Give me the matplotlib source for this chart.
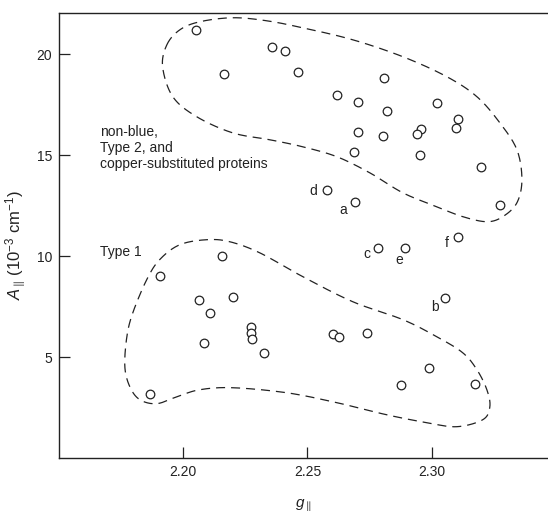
import numpy as np
import matplotlib
matplotlib.use("Agg")
import matplotlib.pyplot as plt

plt.rcParams['font.family'] = ['Liberation Sans', 'DejaVu Sans']
plt.rcParams['mathtext.fontset'] = 'custom'
plt.rcParams['mathtext.rm'] = 'Liberation Sans'
plt.rcParams['mathtext.it'] = 'Liberation Sans:italic'
plt.rcParams['lines.scale_dashes'] = False

# ---- data: unlabelled proteins (g_par, A_par in 1e-3 cm^-1) ----
g_upper = [2.2053, 2.2163, 2.2359, 2.2411, 2.2462, 2.2807, 2.2617, 2.2704, 2.2822,
           2.3022, 2.3104, 2.3096, 2.2704, 2.2803, 2.2955, 2.2939, 2.2686, 2.2953,
           2.3198, 2.3273]
A_upper = [21.2, 19.02, 20.33, 20.16, 19.09, 18.83, 17.99, 17.62, 17.18,
           17.6, 16.81, 16.32, 16.12, 15.92, 16.27, 16.04, 15.15, 14.98,
           14.39, 12.52]

g_lower = [2.2156, 2.1905, 2.2065, 2.2202, 2.2108, 2.2273, 2.2273, 2.2277, 2.2085,
           2.2324, 2.1868, 2.2603, 2.2626, 2.2740, 2.2990, 2.2878, 2.3175]
A_lower = [10.01, 9.02, 7.84, 7.95, 7.16, 6.50, 6.19, 5.91, 5.71,
           5.21, 3.15, 6.15, 5.97, 6.17, 4.47, 3.61, 3.68]

# labelled proteins
lab_names = ['a', 'b', 'c', 'd', 'e', 'f']
lab_g = [2.2692, 2.3055, 2.2784, 2.2577, 2.2894, 2.3106]
lab_A = [12.69, 7.90, 10.40, 13.28, 10.41, 10.96]

# hand-drawn group outlines (g_par, A_par)
outline1_g = [2.1934, 2.1986, 2.2066, 2.2199, 2.2336, 2.2481, 2.2682, 2.2884, 2.3061,
              2.3182, 2.3274, 2.3343, 2.3363, 2.3343, 2.3286, 2.3222, 2.3125, 2.3021,
              2.2884, 2.2751, 2.2618, 2.2481, 2.2348, 2.2199, 2.2054, 2.1958, 2.1917]
outline1_A = [20.46, 21.20, 21.60, 21.80, 21.65, 21.30, 20.71, 19.87, 18.88,
              17.89, 16.60, 15.26, 13.78, 12.64, 11.95, 11.70, 11.95, 12.44,
              13.13, 14.12, 14.92, 15.41, 15.76, 16.10, 16.90, 17.89, 19.37]
outline2_g = [2.1905, 2.1986, 2.2095, 2.2187, 2.2308, 2.2481, 2.2682, 2.2884, 2.3021,
              2.3125, 2.3182, 2.3222, 2.3234, 2.3206, 2.3101, 2.2980, 2.2819, 2.2618,
              2.2417, 2.2199, 2.2066, 2.1974, 2.1893, 2.1825, 2.1785, 2.1765, 2.1773,
              2.1797, 2.1853]
outline2_A = [9.82, 10.56, 10.81, 10.71, 10.16, 8.98, 7.74, 6.85, 6.00,
              5.21, 4.37, 3.38, 2.54, 1.90, 1.55, 1.75, 2.14, 2.74,
              3.23, 3.48, 3.38, 3.03, 2.69, 2.89, 3.53, 4.52, 6.00,
              7.19, 8.83]

x_ticks = [2.20, 2.25, 2.30]
y_ticks = [5, 10, 15, 20]


def closed_smooth(xs, ys, n=20):
    """Closed Catmull-Rom curve through the given outline vertices."""
    P = np.column_stack([xs, ys])
    m = len(P)
    out = []
    for i in range(m):
        p0, p1, p2, p3 = P[(i - 1) % m], P[i], P[(i + 1) % m], P[(i + 2) % m]
        t = np.linspace(0, 1, n, endpoint=False)[:, None]
        seg = 0.5 * ((2 * p1) + (-p0 + p2) * t + (2 * p0 - 5 * p1 + 4 * p2 - p3) * t ** 2
                     + (-p0 + 3 * p1 - 3 * p2 + p3) * t ** 3)
        out.append(seg)
    out = np.vstack(out + [P[:1]])
    return out[:, 0], out[:, 1]


fig = plt.figure(figsize=(5.48, 5.14), dpi=100)
ax = fig.add_axes([59 / 548, 1 - 458 / 514, 1 - 59 / 548, (458 - 12.7) / 514])

ink = '#222222'
for og, oA in [(outline1_g, outline1_A), (outline2_g, outline2_A)]:
    sx, sy = closed_smooth(og, oA)
    ax.plot(sx, sy, color=ink, lw=0.9, ls=(0, (6.5, 4.3)))

mk = dict(ls='none', marker='o', ms=6.2, mfc='white', mec=ink, mew=0.9)
ax.plot(g_upper, A_upper, **mk)
ax.plot(g_lower, A_lower, **mk)
ax.plot(lab_g, lab_A, **mk)

offsets = {'a': (-8.6, -5.8), 'b': (-7.2, -5.8), 'c': (-8.4, -4.1),
           'd': (-9.6, -1.2), 'e': (-4.6, -9.1), 'f': (-8.4, -4.5)}
for name, g, A in zip(lab_names, lab_g, lab_A):
    ax.annotate(name, (g, A), xytext=offsets[name], textcoords='offset points',
                ha='center', va='center', fontsize=10, color=ink)

ax.text(2.1664, 16.49, 'non-blue,\nType 2, and\ncopper-substituted proteins',
        ha='left', va='top', fontsize=10, color=ink, linespacing=1.2)
ax.text(2.1664, 10.18, 'Type 1', ha='left', va='center', fontsize=10, color=ink)

ax.set_xlim(2.15, 2.3468)
ax.set_ylim(0, 22.05)
ax.set_xticks(x_ticks)
ax.set_xticklabels([f'{v:.2f}' for v in x_ticks])
ax.set_yticks(y_ticks)
ax.tick_params(direction='in', length=8, width=0.9, color=ink, labelcolor=ink,
               labelsize=10, pad=5)
for s in ['left', 'top', 'bottom']:
    ax.spines[s].set_color(ink)
    ax.spines[s].set_linewidth(1.0)
ax.spines['right'].set_visible(False)

ax.set_xlabel(r'$g_{\parallel}$', fontsize=11, color=ink)
ax.xaxis.set_label_coords(0.5, -0.09)
ax.set_ylabel(r'$A_{\parallel}\,(10^{-3}\ \mathrm{cm}^{-1})$', fontsize=12, color=ink)
ax.yaxis.set_label_coords(-0.063, 0.478)

fig.savefig('out.png', dpi=100)
